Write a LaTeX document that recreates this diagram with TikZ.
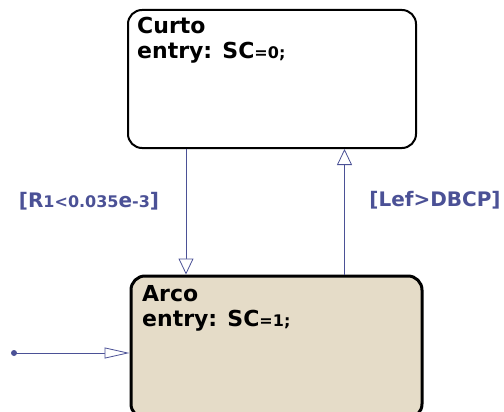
\documentclass[tikz,border=0pt]{standalone}
\usepackage{fontspec}
\setmainfont{DejaVu Sans}
\usepackage{xcolor}
\usetikzlibrary{arrows.meta,positioning,calc}

\definecolor{sfblue}{RGB}{75,81,150}
\definecolor{sfbeige}{RGB}{229,220,200}
\newcommand{\sm}[1]{{\fontsize{16}{16}\selectfont #1}}

\begin{document}
\begin{tikzpicture}[x=1pt, y=-1pt,
    state/.style={draw, rounded corners=14pt, line width=2pt,
                  minimum width=288pt, minimum height=138pt, inner sep=0pt},
    stext/.style={anchor=north west, align=left, inner sep=0pt,
                  font=\bfseries\fontsize{22}{25}\selectfont},
    trans/.style={draw=sfblue, line width=0.8pt,
                  -{Triangle[fill=white, length=16pt, width=15pt]}},
    guard/.style={text=sfblue, font=\bfseries\fontsize{20}{22}\selectfont, inner sep=0pt},
  ]
    \useasboundingbox (0,0) rectangle (504,412);
    \clip (0,0) rectangle (504,412);

    \node[state] (curto) at (272,79) {};
    \node[state, fill=sfbeige, line width=3pt, minimum width=291pt,
          minimum height=142pt] (arco) at (276.5,347) {};

    \node[stext] (curtotxt) at (137,17) {Curto\\entry: SC\sm{=0;}};
    \node[stext] (arcotxt)  at (142,285) {Arco\\entry: SC\sm{=1;}};

    % transitions
    \coordinate (c1) at ($(curto.south west)+(59,0)$);
    \coordinate (c2) at ($(arco.north west)+(215,0)$);
    \draw[trans] (c1) -- (c1 |- arco.north);
    \draw[trans] (c2) -- (c2 |- curto.south);
    \node[guard] (g1) at (89,201) {[R\sm{1<0.035}e\sm{-3}]};
    \node[guard] (g2) at (435,200) {[Lef>DBCP]};

    % default transition
    \coordinate (init) at (14,353);
    \fill[sfblue] (init) circle (3pt);
    \draw[trans, -{Triangle[fill=white, length=25pt, width=11pt]}]
      (init) -- (init -| arco.west);
  \end{tikzpicture}
\end{document}
